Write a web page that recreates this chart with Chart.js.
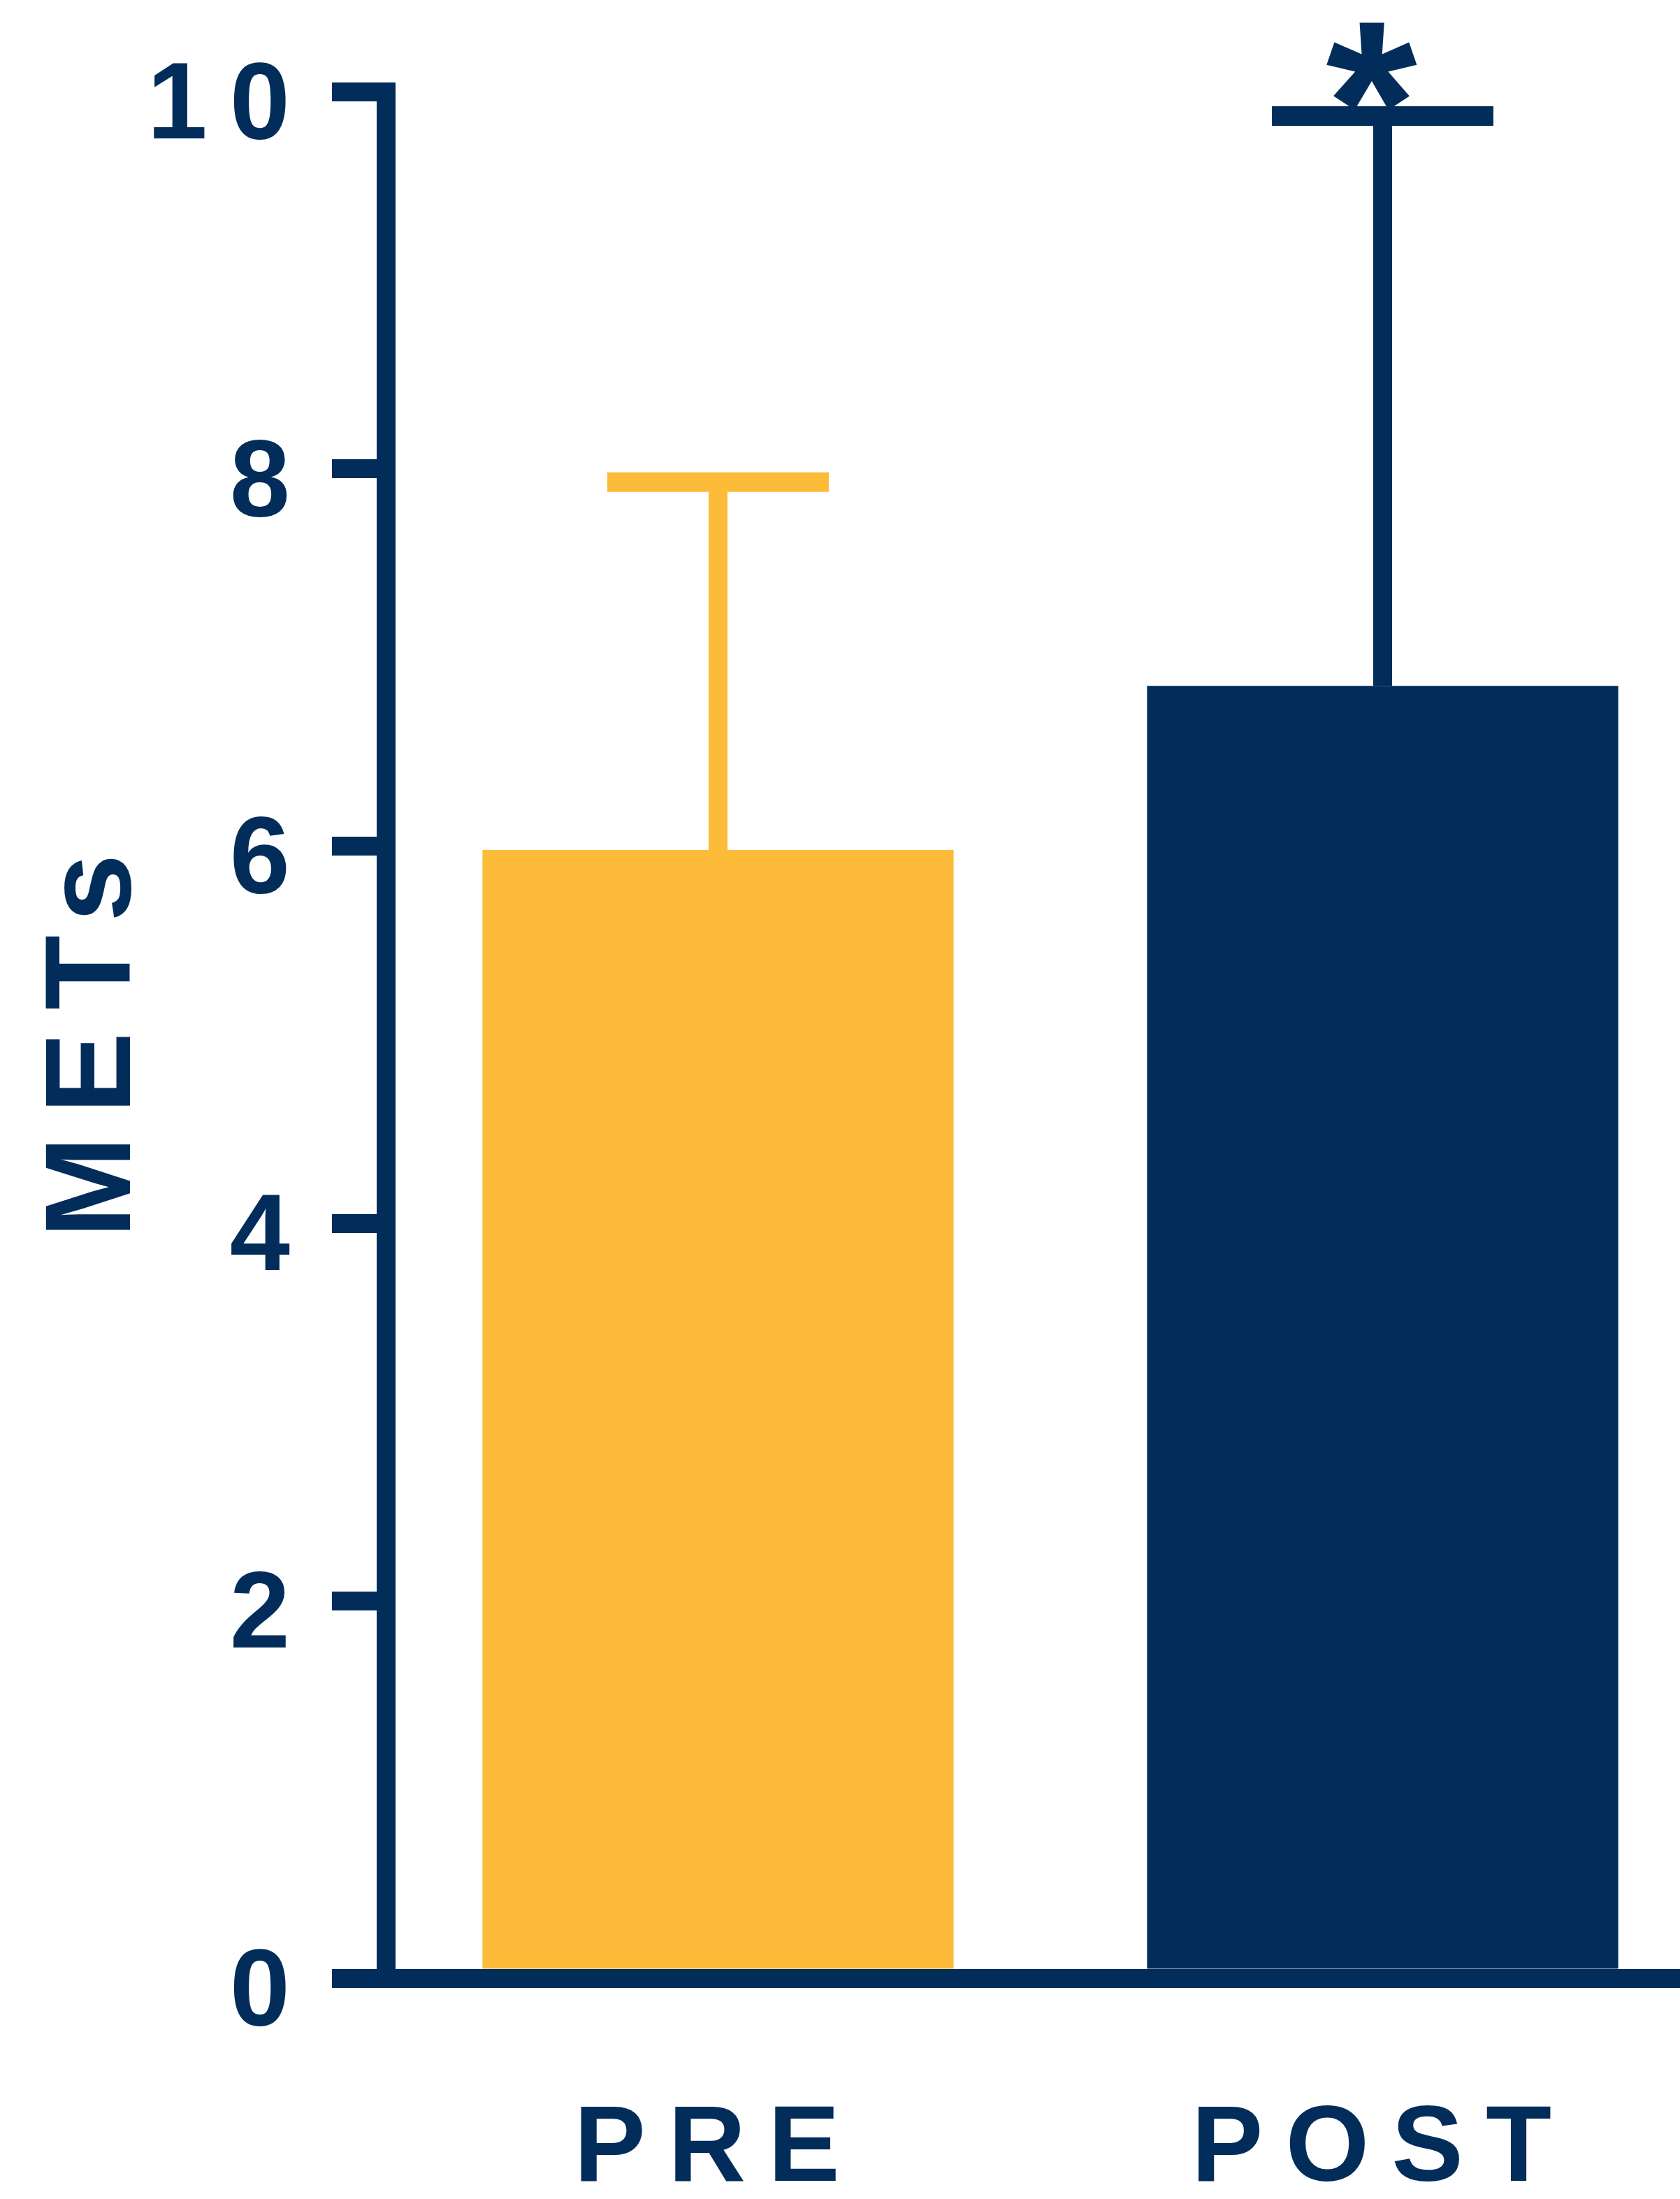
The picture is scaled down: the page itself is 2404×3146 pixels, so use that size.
<!DOCTYPE html>
<html><head><meta charset="utf-8">
<script src="https://cdn.jsdelivr.net/npm/chart.js@4/dist/chart.umd.min.js"></script>
<style>html,body{margin:0;padding:0;overflow:hidden;background:#fff;width:2404px;height:3146px}canvas{display:block}</style>
</head><body>
<canvas id="c" width="2460" height="3146"></canvas>
<script>
// ---- data ----
const categories = ['PRE', 'POST'];
const meanValues = [5.98, 6.85];
const errorValues = [1.95, 3.02];
const significance = ['', '*'];
const yTicks = [0, 2, 4, 6, 8, 10];
const yTitle = 'METs';

// ---- style ----
const NAVY = '#022D5B';
const YELLOW = '#FCBC3A';
const barColors = [YELLOW, NAVY];
const FONT = '"Liberation Sans", Arial, Helvetica, sans-serif';

const spacingPlugin = {
  id: 'spacing',
  beforeDraw(chart) { chart.ctx.letterSpacing = '32px'; }
};

const errorBarPlugin = {
  id: 'errorBars',
  afterDatasetsDraw(chart) {
    const ctx = chart.ctx;
    const meta = chart.getDatasetMeta(0);
    const ys = chart.scales.y;
    ctx.save();
    meta.data.forEach((bar, i) => {
      const cx = bar.x;
      const base = ys.getPixelForValue(meanValues[i]);
      const top = ys.getPixelForValue(meanValues[i] + errorValues[i]);
      const capHalf = bar.width * 0.235;
      ctx.strokeStyle = barColors[i];
      ctx.lineCap = 'butt';
      ctx.lineWidth = 27;
      ctx.beginPath(); ctx.moveTo(cx, base); ctx.lineTo(cx, top); ctx.stroke();
      ctx.lineWidth = 28;
      ctx.beginPath(); ctx.moveTo(cx - capHalf, top); ctx.lineTo(cx + capHalf, top); ctx.stroke();
      if (significance[i]) {
        ctx.fillStyle = NAVY;
        ctx.font = 'bold 335px ' + FONT;
        ctx.textAlign = 'center';
        ctx.textBaseline = 'alphabetic';
        ctx.fillText(significance[i], cx, top + 97);
      }
    });
    ctx.restore();
  }
};

new Chart(document.getElementById('c'), {
  type: 'bar',
  data: {
    labels: categories,
    datasets: [{
      data: meanValues,
      backgroundColor: barColors,
      borderWidth: 0,
      barPercentage: 0.709,
      categoryPercentage: 1.0
    }]
  },
  options: {
    responsive: false,
    animation: false,
    devicePixelRatio: 1,
    layout: { padding: { left: 0, right: 6, top: 131, bottom: 0 } },
    plugins: { legend: { display: false }, tooltip: { enabled: false } },
    scales: {
      x: {
        z: 1,
        offset: true,
        grid: { display: false },
        border: { display: true, color: NAVY, width: 27 },
        ticks: { color: NAVY, padding: 147, font: { family: FONT, size: 154, weight: 'bold', lineHeight: 1.2 } },
        afterFit(scale) { scale.height = 316; }
      },
      y: {
        z: 1,
        min: 0, max: 10,
        afterBuildTicks(scale) { scale.ticks = yTicks.map(v => ({ value: v })); },
        grid: { display: true, drawOnChartArea: false, drawTicks: true, tickLength: 77, color: NAVY, lineWidth: 27, tickWidth: 27 },
        border: { display: true, color: NAVY, width: 27 },
        ticks: { color: NAVY, padding: 28, labelOffset: 24, font: { family: FONT, size: 155, weight: 'bold', lineHeight: 1.2 } },
        title: { display: true, text: yTitle, color: NAVY, padding: { top: 33, bottom: 0 }, font: { family: FONT, size: 175, weight: 'bold', lineHeight: 1.2 } },
        afterFit(scale) { scale.width = 552; }
      }
    }
  },
  plugins: [spacingPlugin, errorBarPlugin]
});
</script>
</body></html>
